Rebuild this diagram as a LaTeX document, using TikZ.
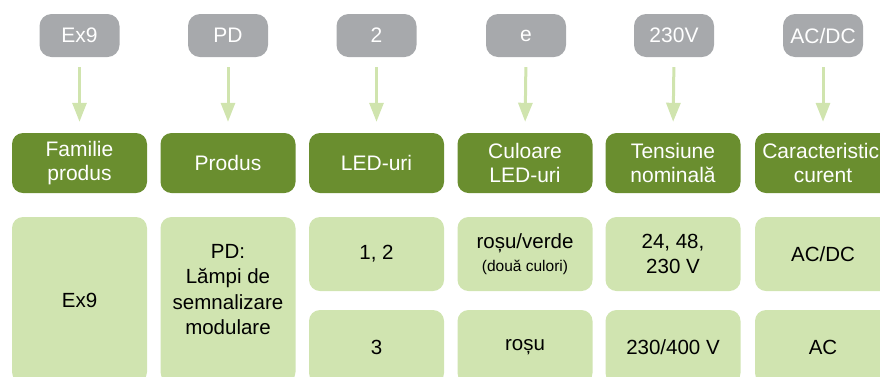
\documentclass[tikz,border=0pt]{standalone}
\usepackage{fontspec}
\setmainfont{Liberation Sans}
\usetikzlibrary{arrows.meta}
\definecolor{greybox}{HTML}{A7A9AC}
\definecolor{darkgreen}{HTML}{6A8E2F}
\definecolor{lightgreen}{HTML}{D0E4B0}
\definecolor{arrowgreen}{HTML}{D0E4AE}
\tikzset{
  codebox/.style={fill=greybox, text=white, rounded corners=12pt, minimum width=80pt, minimum height=43pt, inner sep=0pt, font=\fontsize{21}{24}\selectfont},
  headbox/.style={fill=darkgreen, text=white, rounded corners=11pt, minimum width=135pt, minimum height=60pt, inner sep=0pt, align=center, font=\fontsize{21}{24}\selectfont},
  valbox/.style={fill=lightgreen, text=black, rounded corners=11pt, minimum width=135pt, inner sep=0pt, align=center, font=\fontsize{20.5}{25.5}\selectfont},
  connector/.style={draw=arrowgreen, line width=3pt, -{Triangle[width=14pt,length=19pt]}, shorten <=10pt, shorten >=11pt}
}
\begin{document}
\begin{tikzpicture}[x=1pt,y=-1pt]
\useasboundingbox (0,0) rectangle (880,376);
% code boxes
\node[codebox] (c1) at (79.5,35.5) {Ex9};
\node[codebox] (c2) at (228,35.5) {PD};
\node[codebox] (c3) at (376.5,35.5) {2};
\node[codebox] (c4) at (526,35.5) {e};
\node[codebox] (c5) at (674,35.5) {230V};
\node[codebox] (c6) at (823,35.5) {AC/DC};
% header boxes
\node[headbox] (h1) at (79.5,163) {Familie\\produs};
\node[headbox] (h2) at (228,163) {Produs};
\node[headbox] (h3) at (376.5,163) {LED-uri};
\node[headbox] (h4) at (525,163) {Culoare\\LED-uri};
\node[headbox] (h5) at (673,163) {Tensiune\\nominală};
\node[headbox, minimum width=136pt] (h6) at (823,163) {Caracteristici\\curent};
% arrows
\foreach \i in {1,...,6} { \draw[connector] (c\i.south) -- (h\i.north); }
% value boxes
\node[valbox, minimum height=166pt] (v1) at (79.5,300) {Ex9};
\node[valbox, minimum height=166pt] (v2) at (228,300) {PD:\\Lămpi de\\semnalizare\\modulare\\[-4pt]};
\node[valbox, minimum height=74pt] (v3a) at (376.5,254) {1, 2};
\node[valbox, minimum height=74pt] (v3b) at (376.5,347) {3};
\node[valbox, minimum height=74pt] (v4a) at (525,254) {roșu/verde\\[-3pt]{\fontsize{15.5}{17}\selectfont (două culori)}};
\node[valbox, minimum height=74pt] (v4b) at (525,347) {roșu};
\node[valbox, minimum height=74pt] (v5a) at (673,254) {24, 48,\\230 V};
\node[valbox, minimum height=74pt] (v5b) at (673,347) {230/400 V};
\node[valbox, minimum height=74pt, minimum width=136pt] (v6a) at (823,254) {AC/DC};
\node[valbox, minimum height=74pt, minimum width=136pt] (v6b) at (823,347) {AC};
\end{tikzpicture}
\end{document}
